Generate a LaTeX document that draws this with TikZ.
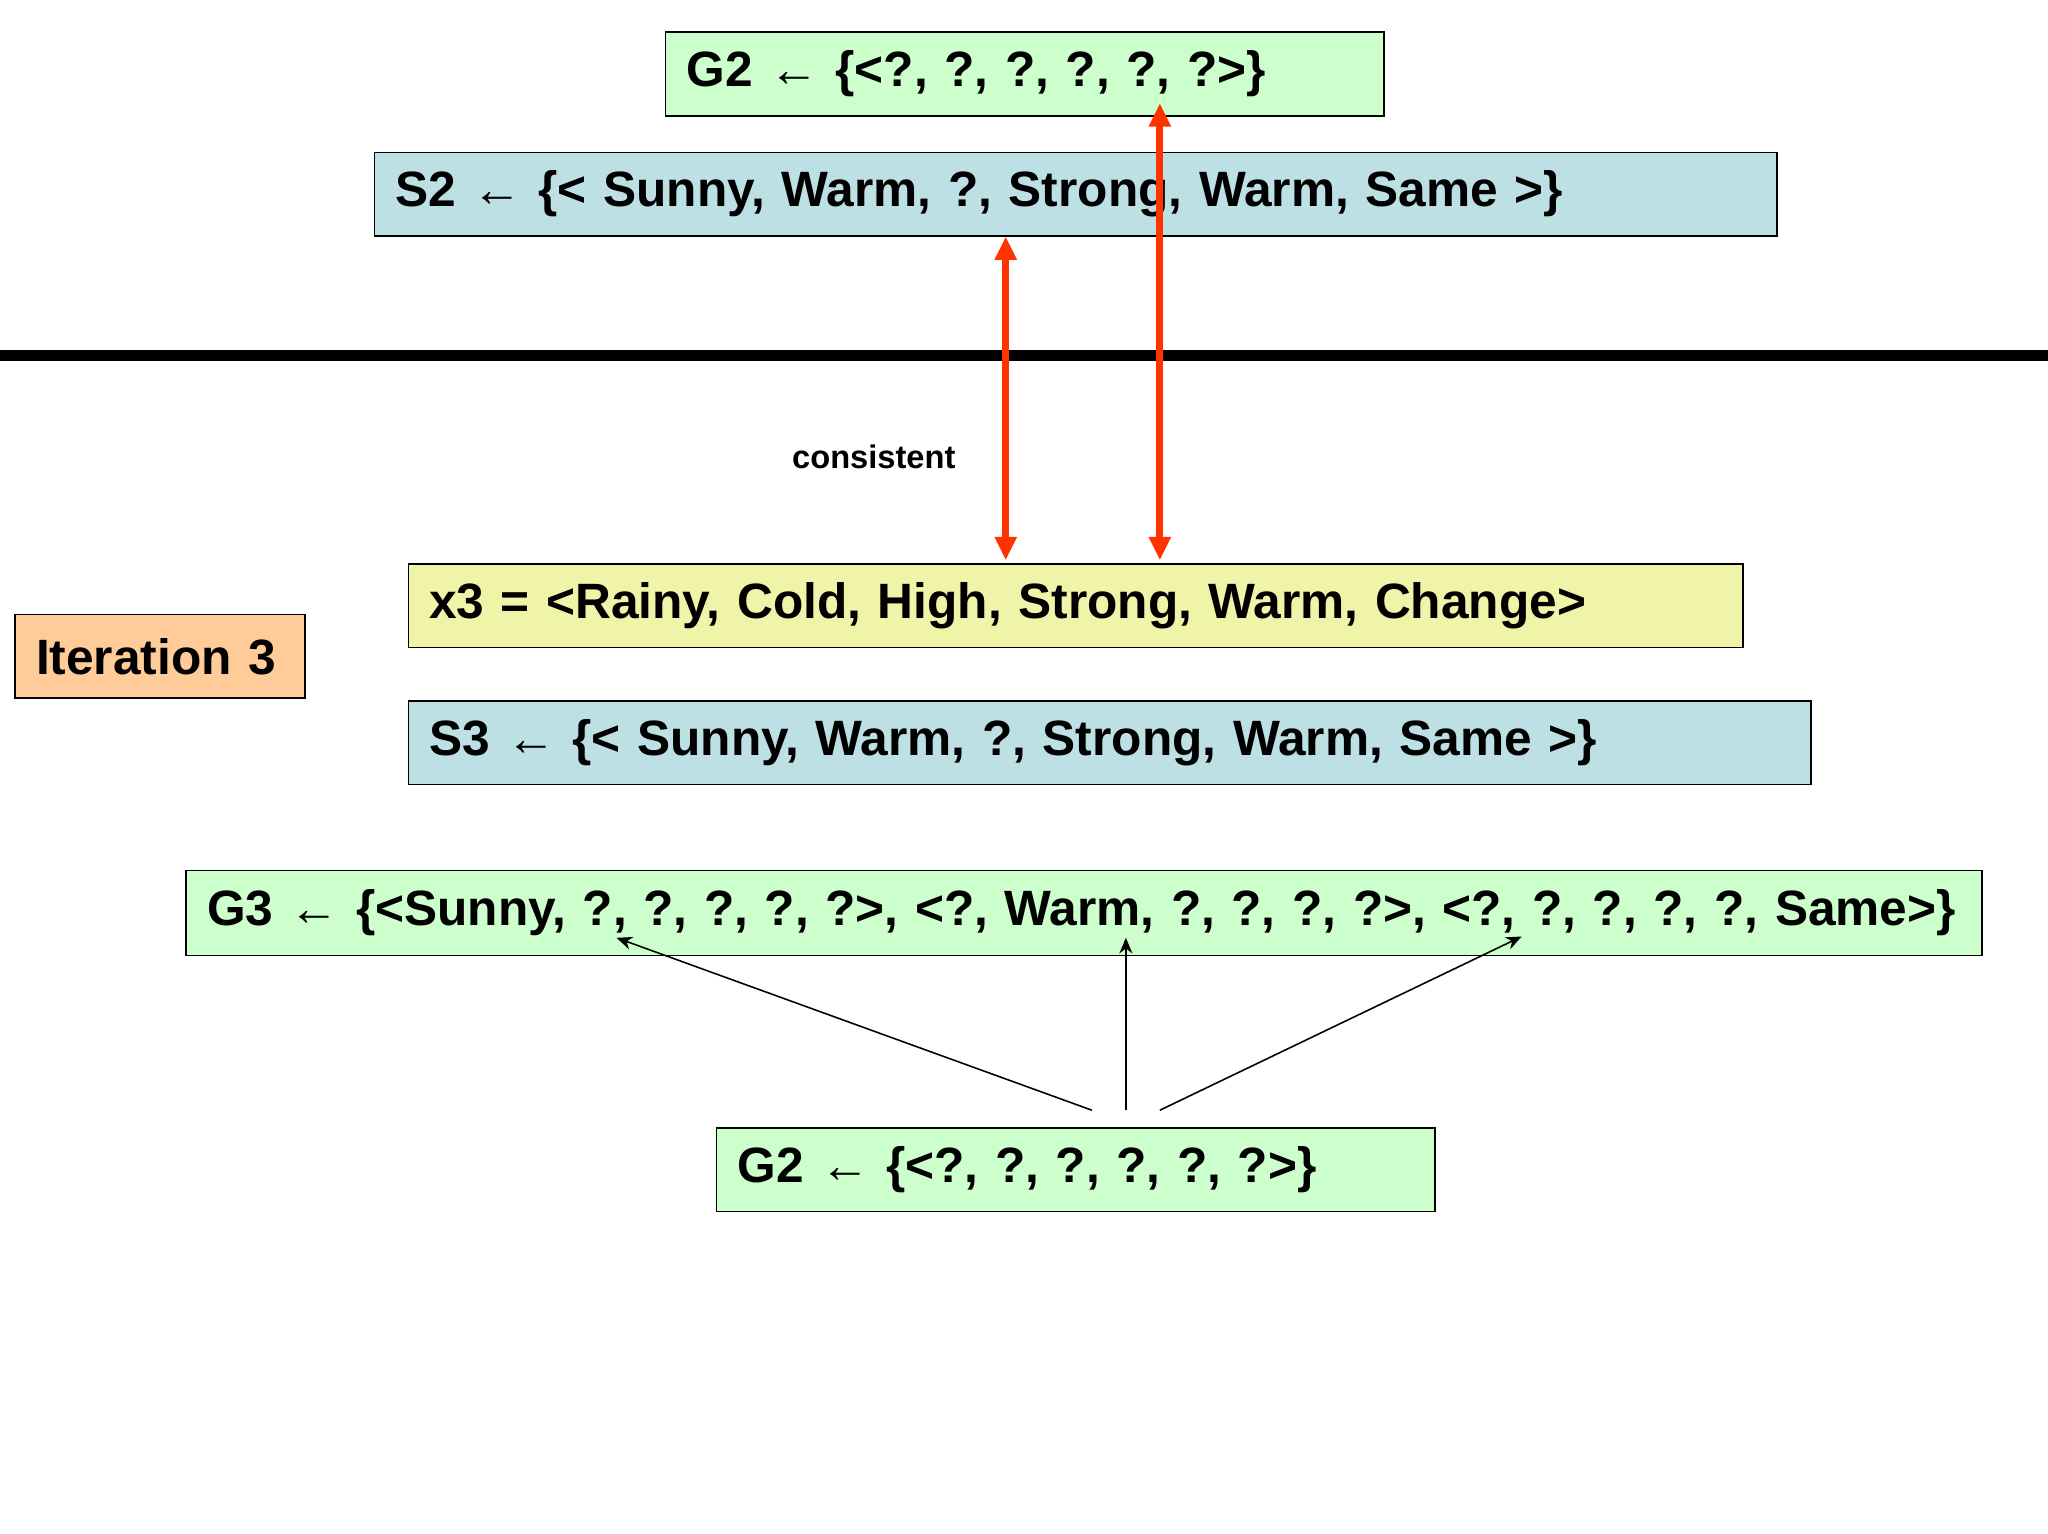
\documentclass[tikz,border=0pt]{standalone}
\usepackage{fontspec}
\setmainfont{Liberation Sans}
\usetikzlibrary{arrows.meta}
\begin{document}
\begin{tikzpicture}[x=0.5pt,y=-0.5pt,
  box/.style={draw=black,line width=0.6pt,rectangle,inner xsep=8pt,inner ysep=0pt,anchor=north west,
    align=left,font=\fontsize{19}{22}\selectfont\bfseries},
  red/.style={draw={rgb,255:red,255;green,51;blue,0},line width=2.6pt,{Triangle[length=9pt,width=8pt]}-{Triangle[length=9pt,width=8pt]}},
  blk/.style={draw=black,line width=0.6pt,-{Stealth[length=6pt,width=5pt]}}]
\useasboundingbox (0,0) rectangle (1568,1174);
\fill[white] (0,0) rectangle (1568,1174);
\definecolor{gr}{RGB}{204,255,204}
\definecolor{bl}{RGB}{189,224,228}
\definecolor{ye}{RGB}{240,244,168}
\definecolor{or}{RGB}{255,204,153}
\newcommand{\bx}[7]{\node[box,fill=#6,minimum width=#3*0.5pt,minimum height=#4*0.5pt,text width=#3*0.5pt-16pt] (#5) at (#1,#2) {#7};}
\bx{509}{24}{550}{64}{g2a}{gr}{G2 ← \{<?, ?, ?, ?, ?, ?>\}}
\bx{286}{116}{1074}{64}{s2}{bl}{S2 ← \{< Sunny, Warm, ?, Strong, Warm, Same >\}}
\bx{312}{431}{1022}{64}{x3}{ye}{x3 = <Rainy, Cold, High, Strong, Warm, Change>}
\bx{11}{470}{222}{64}{it}{or}{Iteration 3}
\bx{312}{536}{1074}{64}{s3}{bl}{S3 ← \{< Sunny, Warm, ?, Strong, Warm, Same >\}}
\bx{142}{666}{1375}{65}{g3}{gr}{G3 ← \{<Sunny, ?, ?, ?, ?, ?>, <?, Warm, ?, ?, ?, ?>, <?, ?, ?, ?, ?, Same>\}}
\bx{548}{863}{550}{64}{g2b}{gr}{G2 ← \{<?, ?, ?, ?, ?, ?>\}}
\draw[line width=4pt] (0,272) -- (1568,272);
\node[font=\fontsize{12.5}{14}\selectfont\bfseries] (lab) at (669,350) {consistent};
\coordinate (r1t) at (770,181); \coordinate (r1b) at (770,429);
\coordinate (r2t) at (888,79); \coordinate (r2b) at (888,429);
\draw[red] (r1t) -- (r1b);
\draw[red] (r2t) -- (r2b);
\coordinate (a1) at (836,850); \coordinate (a2) at (862,850); \coordinate (a3) at (888,850);
\coordinate (e1) at (472,718); \coordinate (e2) at (862,718); \coordinate (e3) at (1165,717);
\draw[blk] (a1) -- (e1);
\draw[blk] (a2) -- (e2);
\draw[blk] (a3) -- (e3);
\end{tikzpicture}
\end{document}
